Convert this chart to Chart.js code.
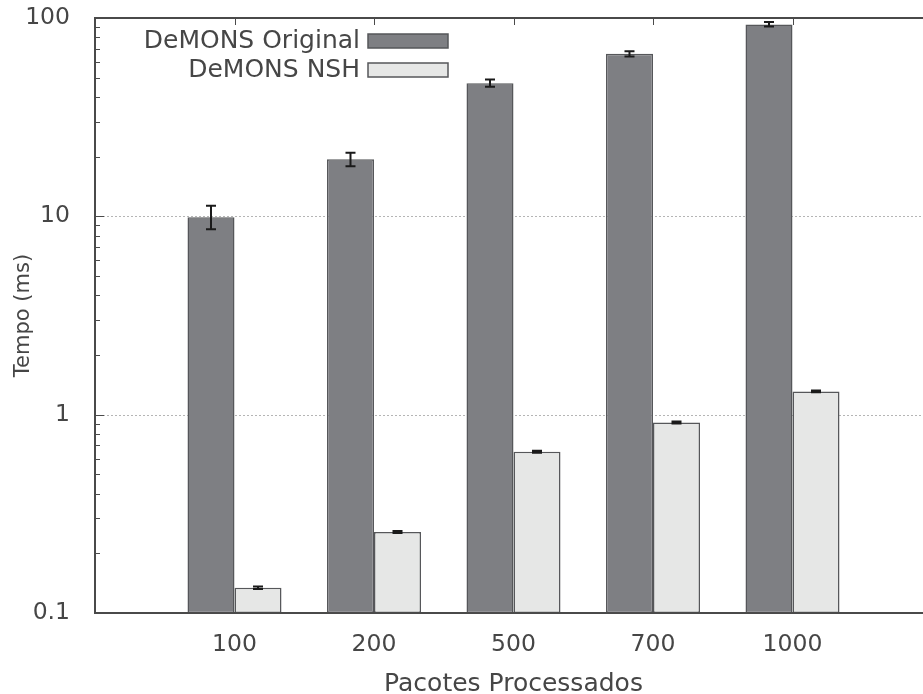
<!DOCTYPE html>
<html>
<head>
<meta charset="utf-8">
<script src="https://cdn.jsdelivr.net/npm/chart.js@4.4.1/dist/chart.umd.min.js"></script>
<style>
  html, body { margin: 0; padding: 0; background: #fff; overflow: hidden; }
  canvas { display: block; }
</style>
</head>
<body>
<canvas id="chart" width="945" height="699" style="width:945px;height:699px"></canvas>
<script>
// Data
const categories = ['100', '200', '500', '700', '1000'];
const originalValues = [9.9, 19.4, 46.9, 66.0, 92.7];
const originalLow = [8.6, 17.9, 45.0, 64.0, 90.5];
const originalHigh = [11.3, 20.9, 49.0, 68.0, 95.5];
const nshValues = [0.134, 0.256, 0.65, 0.913, 1.31];
const nshLow = [0.132, 0.253, 0.643, 0.903, 1.298];
const nshHigh = [0.136, 0.259, 0.657, 0.923, 1.322];
const yTicks = [0.1, 1, 10, 100];
const minorTicks = [0.2, 0.3, 0.4, 0.5, 0.6, 0.7, 0.8, 0.9, 2, 3, 4, 5, 6, 7, 8, 9, 20, 30, 40, 50, 60, 70, 80, 90];

// one empty slot on each side, like the original plot
const pad = arr => [null, ...arr, null];
const labels = ['', ...categories, ''];

const colors = {
  original: '#7e7f83',
  nsh: '#e6e7e6',
  border: '#56575a',
  frame: '#4a4a4a',
  grid: '#b5b5b5',
  text: '#464646'
};
const fontFamily = '"DejaVu Sans", sans-serif';

// Frame, dotted grid, inward ticks
const framePlugin = {
  id: 'frame',
  beforeDatasetsDraw(chart) {
    const { ctx, chartArea: a, scales: { y } } = chart;
    ctx.save();
    ctx.strokeStyle = colors.grid;
    ctx.lineWidth = 1;
    ctx.setLineDash([2, 2]);
    [1, 10].forEach(v => {
      const py = Math.round(y.getPixelForValue(v)) + 0.5;
      ctx.beginPath();
      ctx.moveTo(a.left, py);
      ctx.lineTo(a.right, py);
      ctx.stroke();
    });
    ctx.restore();
  },
  afterDatasetsDraw(chart) {
    const { ctx, chartArea: a, scales: { x, y } } = chart;
    ctx.save();
    ctx.strokeStyle = colors.frame;
    ctx.lineWidth = 1;
    minorTicks.forEach(v => {
      const py = Math.round(y.getPixelForValue(v)) + 0.5;
      ctx.beginPath();
      ctx.moveTo(a.left, py);
      ctx.lineTo(a.left + 5, py);
      ctx.stroke();
    });
    yTicks.forEach(v => {
      const py = Math.round(y.getPixelForValue(v)) + 0.5;
      ctx.beginPath();
      ctx.moveTo(a.left, py);
      ctx.lineTo(a.left + 9, py);
      ctx.stroke();
    });
    categories.forEach((c, i) => {
      const px = Math.round(x.getPixelForValue(i + 1)) + 0.5;
      ctx.beginPath();
      ctx.moveTo(px, a.top);
      ctx.lineTo(px, a.top + 7);
      ctx.stroke();
    });
    ctx.lineWidth = 2;
    ctx.beginPath();
    ctx.moveTo(a.right, a.top);
    ctx.lineTo(a.left, a.top);
    ctx.lineTo(a.left, a.bottom);
    ctx.lineTo(a.right, a.bottom);
    ctx.stroke();
    ctx.restore();
  }
};

// Error bars
const errorBarPlugin = {
  id: 'errorBars',
  afterDatasetsDraw(chart) {
    const { ctx, scales: { y } } = chart;
    ctx.save();
    ctx.strokeStyle = '#1a1a1a';
    ctx.lineWidth = 2;
    chart.data.datasets.forEach((ds, i) => {
      const meta = chart.getDatasetMeta(i);
      meta.data.forEach((bar, j) => {
        if (ds.data[j] == null) return;
        const lo = y.getPixelForValue(ds.errLow[j]);
        const hi = y.getPixelForValue(ds.errHigh[j]);
        ctx.beginPath();
        ctx.moveTo(bar.x, lo);
        ctx.lineTo(bar.x, hi);
        ctx.moveTo(bar.x - 5, lo);
        ctx.lineTo(bar.x + 5, lo);
        ctx.moveTo(bar.x - 5, hi);
        ctx.lineTo(bar.x + 5, hi);
        ctx.stroke();
      });
    });
    ctx.restore();
  }
};

// Key in the top left: text first, then swatch
const keyPlugin = {
  id: 'key',
  afterDraw(chart) {
    const { ctx } = chart;
    ctx.save();
    ctx.font = '25px ' + fontFamily;
    ctx.textAlign = 'right';
    ctx.textBaseline = 'alphabetic';
    chart.data.datasets.forEach((ds, i) => {
      const base = 48 + i * 29;
      ctx.fillStyle = colors.text;
      ctx.fillText(ds.label, 360, base);
      ctx.fillStyle = ds.backgroundColor;
      ctx.fillRect(368, base - 14, 80, 14);
      ctx.strokeStyle = colors.border;
      ctx.lineWidth = 1.5;
      ctx.strokeRect(368, base - 14, 80, 14);
    });
    ctx.restore();
  }
};

new Chart(document.getElementById('chart'), {
  type: 'bar',
  data: {
    labels: labels,
    datasets: [{
      label: 'DeMONS Original',
      data: pad(originalValues),
      errLow: pad(originalLow),
      errHigh: pad(originalHigh),
      backgroundColor: colors.original,
      borderColor: colors.border,
      borderWidth: 1.5,
      borderSkipped: false
    }, {
      label: 'DeMONS NSH',
      data: pad(nshValues),
      errLow: pad(nshLow),
      errHigh: pad(nshHigh),
      backgroundColor: colors.nsh,
      borderColor: colors.border,
      borderWidth: 1.5,
      borderSkipped: false
    }]
  },
  options: {
    responsive: false,
    animation: false,
    categoryPercentage: 0.674,
    barPercentage: 1.0,
    layout: { padding: { top: 18, right: 13, left: 0, bottom: 0 } },
    plugins: {
      legend: { display: false },
      tooltip: { enabled: false }
    },
    scales: {
      x: {
        type: 'category',
        offset: false,
        grid: { display: false },
        border: { display: false },
        ticks: {
          autoSkip: false,
          maxRotation: 0,
          padding: 10,
          color: colors.text,
          font: { family: fontFamily, size: 23.5 }
        },
        title: {
          display: true,
          text: 'Pacotes Processados',
          color: colors.text,
          font: { family: fontFamily, size: 25 },
          padding: { top: 0, bottom: 0 }
        },
        afterFit(scale) {
          scale.height = 86;
          scale.paddingLeft = 0;
          scale.paddingRight = 0;
        }
      },
      y: {
        type: 'logarithmic',
        min: 0.1,
        max: 100,
        grid: { display: false },
        border: { display: false },
        afterBuildTicks(scale) {
          scale.ticks = yTicks.map(v => ({ value: v, major: true }));
        },
        ticks: {
          padding: 17,
          color: colors.text,
          font: { family: fontFamily, size: 23.5 },
          callback: v => String(v)
        },
        title: {
          display: true,
          text: 'Tempo (ms)',
          color: colors.text,
          font: { family: fontFamily, size: 21 },
          padding: { top: 11, bottom: 0 }
        },
        afterFit(scale) {
          scale.width = 95;
          scale.paddingTop = 0;
          scale.paddingBottom = 0;
        }
      }
    }
  },
  plugins: [framePlugin, errorBarPlugin, keyPlugin]
});
</script>
</body>
</html>
